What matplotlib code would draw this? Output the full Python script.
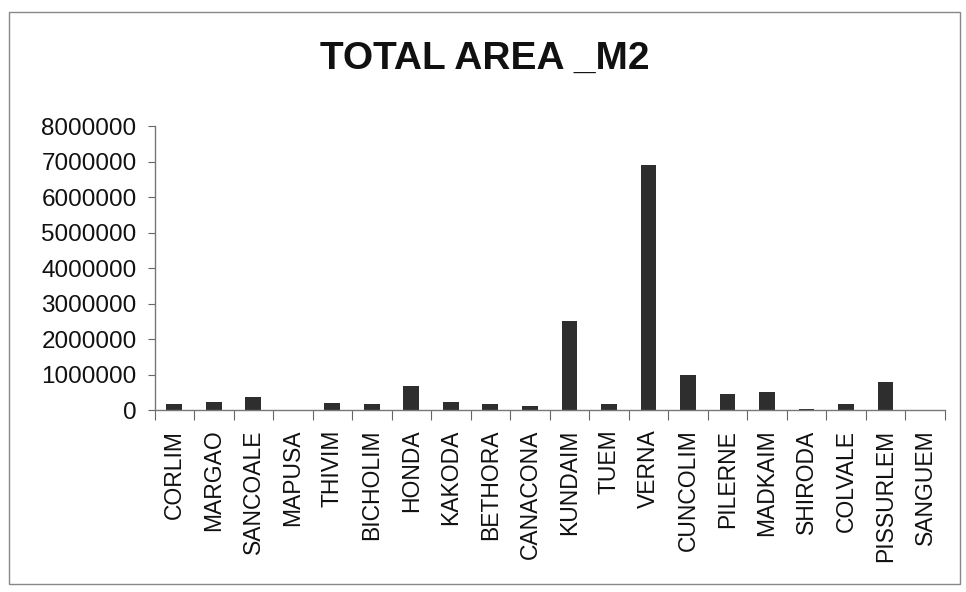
import numpy as np
import matplotlib
matplotlib.use("Agg")
import matplotlib.pyplot as plt
from matplotlib.patches import Rectangle

plt.rcParams.update({"font.family": ["Liberation Sans", "DejaVu Sans"],
                     "text.color": "#111", "xtick.color": "#111",
                     "ytick.color": "#111"})

sites = ["CORLIM", "MARGAO", "SANCOALE", "MAPUSA", "THIVIM", "BICHOLIM",
         "HONDA", "KAKODA", "BETHORA", "CANACONA", "KUNDAIM", "TUEM",
         "VERNA", "CUNCOLIM", "PILERNE", "MADKAIM", "SHIRODA", "COLVALE",
         "PISSURLEM", "SANGUEM"]
area_m2 = [180000, 225000, 360000, 0, 215000, 190000,
           680000, 240000, 190000, 110000, 2520000, 170000,
           6900000, 1000000, 470000, 520000, 40000, 190000,
           790000, 0]
yticks = [0, 1000000, 2000000, 3000000, 4000000, 5000000, 6000000,
          7000000, 8000000]

fig = plt.figure(figsize=(9.66, 5.92), dpi=100, facecolor="white")
ax = fig.add_axes([0.160, 0.307, 0.818, 0.480])

x = np.arange(len(sites))
ax.bar(x, area_m2, width=0.4, color="#2e2e2e", zorder=2)

ax.set_xlim(-0.5, len(sites) - 0.5)
ax.set_ylim(0, 8000000)
ax.set_yticks(yticks)
ax.set_yticklabels([str(v) for v in yticks], fontsize=17.5)
ax.set_xticks(x)
ax.set_xticklabels(sites, rotation=90, fontsize=16.5, va="top")
ax.set_xticks(np.arange(len(sites) + 1) - 0.5, minor=True)
ax.tick_params(axis="x", which="major", length=0, pad=14)
ax.tick_params(axis="x", which="minor", length=7, width=0.8,
               color="#666", direction="out")
ax.tick_params(axis="y", length=5, width=0.8, color="#666", pad=8)
for s in ("top", "right"):
    ax.spines[s].set_visible(False)
for s in ("left", "bottom"):
    ax.spines[s].set_color("#777")
    ax.spines[s].set_linewidth(1.0)

fig.text(0.502, 0.900, "TOTAL AREA _M2", ha="center", va="center",
         fontsize=28, fontweight="bold")

fig.patches.append(Rectangle((0.009, 0.014), 0.985, 0.966,
                             transform=fig.transFigure, fill=False,
                             edgecolor="#888", linewidth=1.0))

fig.savefig("out.png", dpi=100, facecolor="white")
